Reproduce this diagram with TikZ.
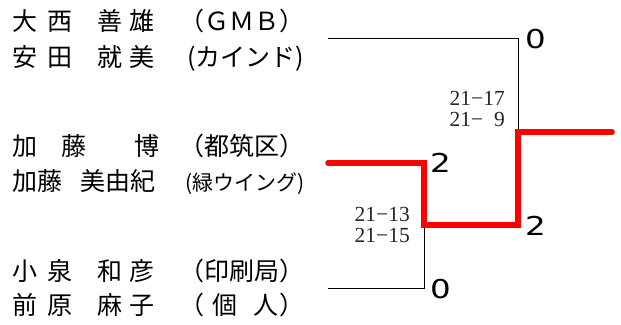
\documentclass[tikz,border=0pt]{standalone}
\usepackage{fontspec}
\setmainfont{Liberation Serif}
\newfontfamily\jpfont{Noto Sans CJK JP}
\newfontfamily\ptfont[FakeStretch=1.25]{DejaVu Sans}
\usetikzlibrary{calc}
\usetikzlibrary{positioning}

\newcommand\famgiven[2]{\makebox[60pt][s]{#1}\hspace{25pt}\makebox[57pt][s]{#2}}
\newcommand\plentry[2]{\makebox[167pt][l]{#1}\makebox[125pt][s]{#2}}

\tikzset{
  player/.style={font=\jpfont\fontsize{25}{25}\selectfont,inner sep=0pt,anchor=base west},
  score/.style={font=\fontsize{21.5}{21.5}\selectfont,align=right,inner sep=0pt,text=black!85},
  pts/.style={font=\ptfont\fontsize{26}{26}\selectfont,inner sep=0pt,anchor=west},
  bline/.style={line width=0.9pt},
  win/.style={line width=5.5pt,red,line cap=round}
}

\begin{document}
\begin{tikzpicture}[x=1pt,y=-1pt]
\useasboundingbox (0,0) rectangle (621,324);

\node[player] (p1a) at (12,30.5) {\plentry{\famgiven{大\hfill 西}{善\hfill 雄}}{（ＧＭＢ）}};
\node[player] (p1b) at (12,66.5) {\plentry{\famgiven{安\hfill 田}{就\hfill 美}}{\hfill(カインド)}};
\node[player] (p2a) at (12,155.5) {\plentry{加\hspace{24pt}藤\hspace{48pt}博}{（都筑区）}};
\node[player] (p2b) at (12,190.5) {\plentry{加藤\hspace{18pt}美由紀}{\hfill{\fontsize{21}{21}\selectfont(緑ウイング)}}};
\node[player] (p3a) at (12,280.5) {\plentry{\famgiven{小\hfill 泉}{和\hfill 彦}}{（印刷局）}};
\node[player] (p3b) at (12,314.5) {\plentry{\famgiven{前\hfill 原}{麻\hfill 子}}{（\hspace{8pt}個\hspace{16pt}人\hfill ）}};

\coordinate (in1) at (328,38);
\coordinate (in2) at (328,163);
\coordinate (in3) at (328,288);
\coordinate (sf) at (424,225);
\coordinate (fn) at (518,132);
\coordinate (out) at (612,132);

\draw[bline] (in1) -| (fn);
\draw[bline] (in3) -| (sf);
\draw[win] (in2) -| (sf) -| (fn) -- (out);

\node[pts,xshift=7pt,yshift=-1pt] (s1) at (in1 -| fn) {0};
\node[pts,xshift=6pt] (s2) at (in2 -| sf) {2};
\node[pts,xshift=7pt,yshift=-1pt] (s3) at (sf -| fn) {2};
\node[pts,xshift=6pt,yshift=-1pt] (s4) at (in3 -| sf) {0};

\node[score,above left=5pt and 13pt of fn] (r2) {21−17\\21−\phantom{1}9};
\node[score,left=14pt of sf] (r1) {21−13\\21−15};
\end{tikzpicture}
\end{document}
